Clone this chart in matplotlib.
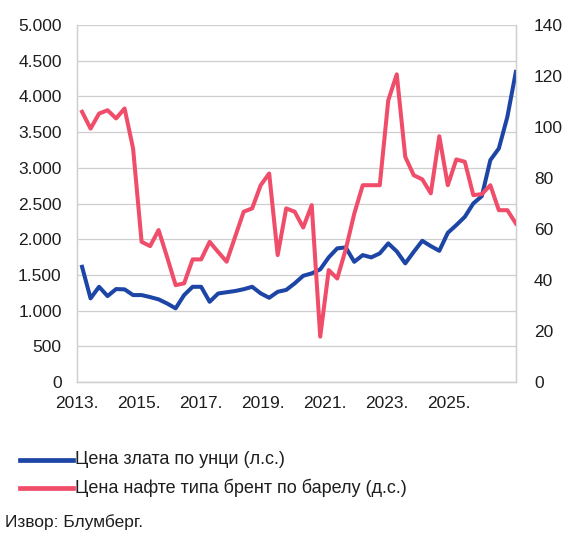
import numpy as np
import matplotlib
matplotlib.use("Agg")
import matplotlib.pyplot as plt
from matplotlib.ticker import FuncFormatter, MultipleLocator

plt.rcParams['font.family'] = ['Liberation Sans', 'DejaVu Sans']

# quarterly observations, Q1 2013 .. Q4 2025
gold = [1614, 1172, 1334, 1204, 1302, 1298, 1218, 1218, 1190, 1158,
        1100, 1032, 1218, 1334, 1334, 1124, 1240, 1258, 1275, 1300,
        1334, 1242, 1180, 1264, 1290, 1382, 1488, 1522, 1578, 1746,
        1872, 1886, 1684, 1778, 1746, 1802, 1942, 1830, 1662, 1824,
        1978, 1904, 1838, 2090, 2198, 2314, 2502, 2604, 3108, 3272,
        3714, 4344]
brent = [106.0, 99.4, 105.3, 106.6, 103.4, 107.3, 91.6, 55.0, 53.3, 59.6,
         49.0, 38.0, 38.7, 48.1, 48.1, 55.0, 51.0, 47.2, 57.0, 66.8,
         68.1, 77.2, 81.8, 49.8, 68.1, 66.8, 60.6, 69.4, 17.8, 43.9,
         40.6, 52.0, 66.0, 77.2, 77.2, 77.2, 110.5, 120.7, 88.3, 81.1,
         79.5, 74.0, 96.4, 77.2, 87.3, 86.4, 73.3, 73.7, 77.2, 67.4,
         67.4, 62.2]
year_labels = ["2013.", "2015.", "2017.", "2019.", "2021.", "2023.", "2025."]

gold_label = "Цена злата по унци (л.с.)"
brent_label = "Цена нафте типа брент по барелу (д.с.)"
source = "Извор: Блумберг."

blue = "#1d45a6"
red = "#ef4d6a"
grid_c = "#cfcfcf"
txt_c = "#1e1e1e"

x = np.arange(len(gold))

fig = plt.figure(figsize=(5.70, 5.34), dpi=100)
ax = fig.add_axes([0.135, 0.2846, 0.77, 0.6684])
ax2 = ax.twinx()

ax.plot(x, gold, color=blue, lw=2.9, solid_joinstyle="round", zorder=3)
ax2.plot(x, brent, color=red, lw=2.9, solid_joinstyle="round", zorder=3)

ax.set_xlim(0, len(gold) - 1)
ax.set_ylim(0, 5000)
ax2.set_ylim(0, 140)
ax.yaxis.set_major_locator(MultipleLocator(500))
ax2.yaxis.set_major_locator(MultipleLocator(20))
ax.yaxis.set_major_formatter(FuncFormatter(lambda v, p: f"{int(v):,}".replace(",", ".")))

ax.set_xticks(np.linspace(-0.6, 43.1, len(year_labels)))
ax.set_xticklabels(year_labels)

ax.grid(axis="y", color=grid_c, lw=0.9)
for a in (ax, ax2):
    a.tick_params(length=0, labelsize=12.5, colors=txt_c)
    for s in a.spines.values():
        s.set_color(grid_c)
        s.set_linewidth(0.9)
    a.spines["top"].set_visible(False)
ax.tick_params(axis="y", pad=11)
ax2.tick_params(axis="y", pad=13)
ax.tick_params(axis="x", pad=10)
ax2.set_zorder(ax.get_zorder() + 1)
ax2.patch.set_visible(False)

# legend drawn by hand below the chart
for yy, col, txt in [(460, blue, gold_label), (488, red, brent_label)]:
    fy = 1 - yy / 534
    fig.add_artist(plt.Line2D([20 / 570, 73 / 570], [fy, fy], color=col, lw=3.4,
                              transform=fig.transFigure))
    fig.text(75 / 570, fy, txt, fontsize=13, va="center", ha="left", color=txt_c)

fig.text(5 / 570, 1 - 522 / 534, source, fontsize=12.5, va="center", ha="left",
         color=txt_c)

fig.savefig("out.png", dpi=100)
